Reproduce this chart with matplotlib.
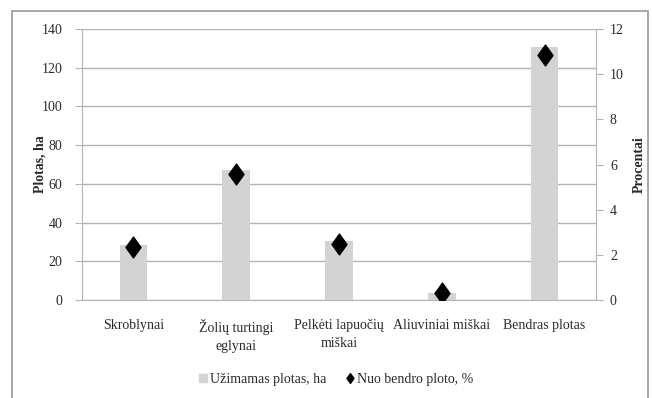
import matplotlib
matplotlib.use("Agg")
import matplotlib.pyplot as plt
from matplotlib.patches import Rectangle
from matplotlib.lines import Line2D
from matplotlib.path import Path

plt.rcParams['font.family'] = ['Liberation Serif', 'DejaVu Serif']

categories = ["Skroblynai", "Žolių turtingi\neglynai", "Pelkėti lapuočių\nmiškai",
              "Aliuviniai miškai", "Bendras plotas"]
area_ha = [28.4, 67.1, 30.6, 3.8, 130.9]
share_pct = [2.36, 5.58, 2.47, 0.30, 10.85]
left_ticks = [0, 20, 40, 60, 80, 100, 120, 140]
right_ticks = [0, 2, 4, 6, 8, 10, 12]

grid_col = "#b4b4b4"
bar_col = "#d3d3d3"
txt_col = "#2a2a2a"

# slightly tall diamond marker
diamond = Path([(0, 1), (0.72, 0), (0, -1), (-0.72, 0), (0, 1)],
               [Path.MOVETO, Path.LINETO, Path.LINETO, Path.LINETO, Path.CLOSEPOLY])

fig = plt.figure(figsize=(6.52, 3.98), dpi=100)
fig.patches.append(Rectangle((12 / 652, -0.05), 636 / 652, 1.05 - 11 / 398,
                             transform=fig.transFigure, fill=False,
                             edgecolor="#9a9a9a", linewidth=1.2, zorder=0))

ax = fig.add_axes([82 / 652, 98 / 398, 514 / 652, 271 / 398])
x = list(range(len(categories)))
ax.bar(x, area_ha, width=0.27, color=bar_col, zorder=2)
ax.set_xlim(-0.5, len(categories) - 0.5)
ax.set_ylim(0, 140)
ax.set_yticks(left_ticks)
ax.yaxis.grid(True, color=grid_col, linewidth=1.0, zorder=0)
ax.set_axisbelow(True)
for s in ["top", "right"]:
    ax.spines[s].set_visible(False)
ax.spines["left"].set_color(grid_col)
ax.spines["bottom"].set_color(grid_col)
ax.tick_params(axis="y", direction="out", length=5, color=grid_col,
               labelsize=10, labelcolor=txt_col, pad=9)
ax.tick_params(axis="x", length=0, labelsize=10, labelcolor=txt_col, pad=14)
ax.set_xticks(x)
ax.set_xticklabels(categories, linespacing=1.45)
ax.set_ylabel("Plotas, ha", fontsize=10, fontweight="bold", color=txt_col)
ax.yaxis.set_label_coords(-0.07, 0.5)

ax2 = ax.twinx()
ax2.plot(x, share_pct, linestyle="none", marker=diamond, markersize=15,
         color="black", zorder=5)
ax2.set_ylim(0, 12)
ax2.set_yticks(right_ticks)
for s in ["top", "left", "bottom"]:
    ax2.spines[s].set_visible(False)
ax2.spines["right"].set_color(grid_col)
ax2.tick_params(axis="y", direction="out", length=5, color=grid_col,
                labelsize=10, labelcolor=txt_col, pad=5)
ax2.set_ylabel("Procentai", fontsize=10, fontweight="bold", color=txt_col,
               rotation=90)
ax2.yaxis.set_label_coords(1.072, 0.5)

handles = [
    Line2D([], [], linestyle="none", marker="s", markersize=6,
           markerfacecolor=bar_col, markeredgecolor=bar_col),
    Line2D([], [], linestyle="none", marker=diamond, markersize=7, color="black"),
]
fig.legend(handles, ["Užimamas plotas, ha", "Nuo bendro ploto, %"],
           loc="center", bbox_to_anchor=(335 / 652, 1 - 379 / 398), ncol=2,
           frameon=False, fontsize=10, handletextpad=0.1, columnspacing=1.3,
           handlelength=0.8, labelcolor=txt_col)

fig.savefig("out.png", dpi=100)
